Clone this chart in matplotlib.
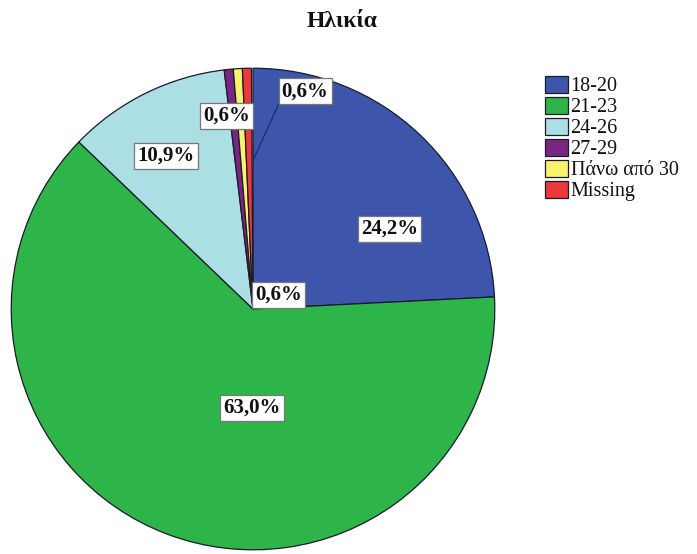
import numpy as np
import matplotlib
matplotlib.use("Agg")
import matplotlib.pyplot as plt

# data
categories = ['18-20', '21-23', '24-26', '27-29', 'Πάνω από 30', 'Missing']
percentages = [24.2, 63.0, 10.9, 0.6, 0.6, 0.6]
pct_labels = ['24,2%', '63,0%', '10,9%', '0,6%', '0,6%', '0,6%']
colors = ['#3d56ac', '#2db54a', '#acdfe3', '#7b2582', '#f7f36c', '#ec3a3c']

plt.rcParams['font.family'] = ['Liberation Serif', 'DejaVu Serif']

fig = plt.figure(figsize=(6.97, 5.54), dpi=100)
fig.patch.set_facecolor('white')

# pie axes placed in pixels: centre ~ (253, 309), radius ~242
ax = fig.add_axes([10 / 697, 3 / 554, 486 / 697, 484 / 554])
fractions = [p / 100 for p in percentages]
wedges, _ = ax.pie(fractions, colors=colors, startangle=90, counterclock=False,
                   radius=1.0, normalize=False,
                   wedgeprops=dict(edgecolor='#1a1a2a', linewidth=0.9))
ax.set_xlim(-1.005, 1.005)
ax.set_ylim(-1.005, 1.005)
ax.set_aspect('auto')
ax.axis('off')

# label placement: (angle nudge in degrees, radial distance)
label_layout = [(-16, 0.655), (20, 0.41), (3, 0.73), (2, 0.81), (-17, 0.93), (-62, 0.12)]

box = dict(boxstyle='square,pad=0.15', facecolor='white', edgecolor='#777777', linewidth=0.9)
for w, lab, (nudge, r) in zip(wedges, pct_labels, label_layout):
    mid = (w.theta1 + w.theta2) / 2 + nudge
    x = r * np.cos(np.radians(mid))
    y = r * np.sin(np.radians(mid))
    ax.text(x, y, lab, ha='center', va='center', fontsize=15, fontweight='bold',
            color='#111111', bbox=box, zorder=5)

# leader line from the top-right label down into its slice
w = wedges[4]
mid = np.radians((w.theta1 + w.theta2) / 2)
a0 = np.radians((w.theta1 + w.theta2) / 2 - 12)
ax.plot([0.86 * np.cos(a0) - 0.02, 0.62 * np.cos(mid) + 0.04],
        [0.86 * np.sin(a0), 0.62 * np.sin(mid)],
        color='#1a2a7a', linewidth=0.9, zorder=4)

fig.text(0.491, 0.962, 'Ηλικία', ha='center', va='center', fontsize=17, fontweight='bold',
         color='#111111')

leg = fig.legend(wedges, categories, loc='upper left', bbox_to_anchor=(0.771, 0.878),
                 frameon=False, fontsize=14.5, handlelength=1.1, handleheight=0.95,
                 handletextpad=0.15, labelspacing=0.02, borderaxespad=0.0)
for t in leg.get_texts():
    t.set_color('#111111')

fig.savefig('out.png', dpi=100, facecolor='white')
